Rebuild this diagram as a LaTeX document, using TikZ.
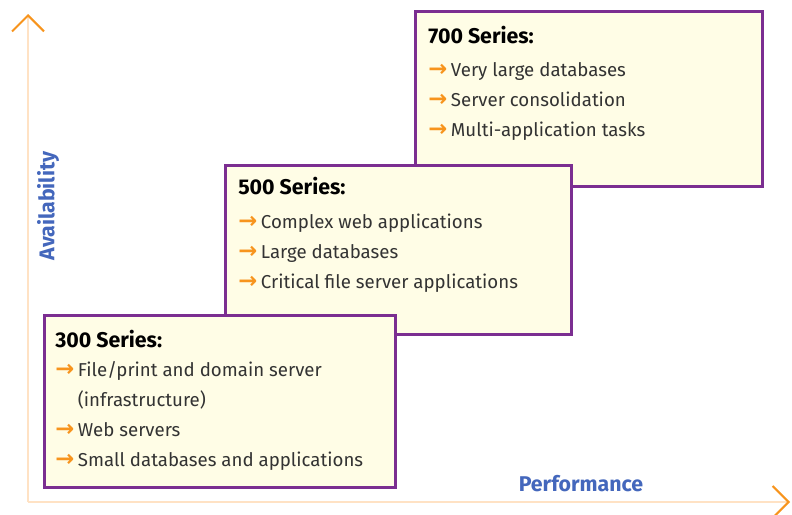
\documentclass[tikz,border=0pt]{standalone}
\usepackage{fontspec}
\setmainfont{Fira Sans}
\newfontfamily\symfont{DejaVu Sans}
\usetikzlibrary{arrows.meta}
\definecolor{boxline}{HTML}{7B2E91}
\definecolor{boxfill}{HTML}{FFFDE6}
\definecolor{axisline}{HTML}{FFE2C4}
\definecolor{axistip}{HTML}{F7941D}
\definecolor{labelblue}{HTML}{4467BC}
\definecolor{itemtext}{HTML}{333333}
\newcommand{\itemarr}{\makebox[17pt][l]{\fontsize{17}{17}\symfont\bfseries\color{axistip}→}}
\newcommand{\seriestitle}[1]{\textcolor{black}{\fontsize{16}{16}\selectfont\bfseries #1}}
\begin{document}
\begin{tikzpicture}[x=0.75pt,y=-0.75pt]
  \tikzset{ series/.style={rectangle,draw=boxline,fill=boxfill,line width=2pt,anchor=north west,inner sep=0pt},
    list/.style={anchor=north west,inner sep=0pt,align=left,text=itemtext,font=\fontsize{14}{22.5}\selectfont},
    axis/.style={draw=axisline,line width=1.5pt,-{Straight Barb[color=axistip,length=12pt,width=24pt,line width=1.5pt]}},
  }
  \useasboundingbox (0,0) rectangle (792,514);
  \coordinate (o) at (28,502);
  \coordinate (ytop) at (28,14);
  \coordinate (xend) at (790,502);

  % the two axes
  \draw[axis] (o) -- (ytop);
  \draw[axis] (o) -- (xend);
  \node[rotate=90,text=labelblue,font=\fontsize{16}{16}\selectfont\bfseries] (avail) at (48,206) {Availability};
  \node[text=labelblue,font=\fontsize{16}{16}\selectfont\bfseries] (perf) at (581,484) {Performance};

  % the three series, back to front
  \node[series,minimum width=347*0.75pt,minimum height=175*0.75pt] (b7) at (414,10) {};
  \node[list] (t7) at ([shift={(14,16)}]b7.north west)
    {\seriestitle{700 Series:}\\[2pt]
     \itemarr Very large databases\\
     \itemarr Server consolidation\\
     \itemarr Multi-application tasks};
  \node[series,minimum width=346*0.75pt,minimum height=169*0.75pt] (b5) at (224,164) {};
  \node[list] (t5) at ([shift={(14,13)}]b5.north west)
    {\seriestitle{500 Series:}\\[3pt]
     \itemarr Complex web applications\\
     \itemarr Large databases\\
     \itemarr Critical file server applications};
  \node[series,minimum width=351*0.75pt,minimum height=172*0.75pt] (b3) at (43,314) {};
  \node[list] (t3) at ([shift={(12,16)}]b3.north west)
    {\seriestitle{300 Series:}\\[-1pt]
     \itemarr File/print and domain server\\
     \phantom{\itemarr}(infrastructure)\\
     \itemarr Web servers\\
     \itemarr Small databases and applications};
\end{tikzpicture}
\end{document}
